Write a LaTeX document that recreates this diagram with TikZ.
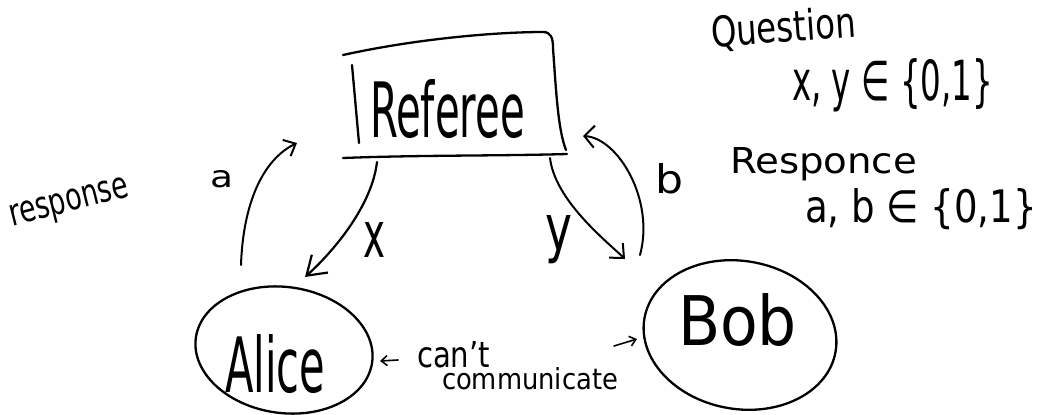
\documentclass[tikz,border=0pt]{standalone}
\usepackage{fontspec}
\setmainfont{DejaVu Sans}
\usepackage{graphicx}
\usetikzlibrary{arrows.meta,shapes.geometric}
\newcommand{\hwtext}[3]{\resizebox{#1}{#2}{#3}}
\begin{document}
\begin{tikzpicture}[x=1pt,y=-1pt,
  ink/.style={line width=2.3pt, line cap=round, line join=round},
  lbl/.style={inner sep=0pt, outer sep=0pt, anchor=base west, font=\fontsize{20}{24}\selectfont},
  bubble/.style={ellipse, draw, ink, inner sep=0pt},
  ]
\useasboundingbox (0,0) rectangle (1039,415);

% Referee box (hand drawn strokes)
\draw[ink] (343,55) .. controls (420,38) and (500,32) .. (543,32)
           .. controls (551,32) and (553,38) .. (553,48)
           .. controls (556,90) and (558,130) .. (566,150);
\draw[ink] (343,158) .. controls (420,155) and (500,156) .. (567,154);
\draw[ink] (352,65) -- (359,143);
\node[lbl] (referee) at (370,137) {\hwtext{155pt}{58pt}{Referee}};

% Alice and Bob
\node[bubble, minimum width=178pt, minimum height=126pt, rotate=-8] (alice) at (284,350) {};
\node[lbl] (alicelabel) at (225,392) {\hwtext{100pt}{58pt}{Alice}};
\node[bubble, minimum width=194pt, minimum height=148pt, rotate=-10] (bob) at (740,335) {};
\node[lbl] (boblabel) at (678,345) {\hwtext{119pt}{52pt}{Bob}};

% connector end points
\coordinate (aS) at (241,265); \coordinate (aE) at (297,143);
\coordinate (xS) at (377,162); \coordinate (xE) at (305,277);
\coordinate (yS) at (550,158); \coordinate (yE) at (625,259);
\coordinate (bS) at (640,255); \coordinate (bE) at (583,136);
\coordinate (lS) at (398,360); \coordinate (lE) at (380,361);
\coordinate (rS) at (614,346); \coordinate (rE) at (637,339);

\draw[ink, line width=2pt, -{Straight Barb[length=10pt,width=18pt]}]
  (aS) .. controls (243,205) and (262,160) .. (aE);
\draw[ink, line width=2.2pt, -{Straight Barb[length=18pt,width=24pt]}]
  (xS) .. controls (372,205) and (335,250) .. (xE);
\draw[ink, line width=2pt, -{Straight Barb[length=11pt,width=20pt]}]
  (yS) .. controls (555,200) and (605,240) .. (yE);
\draw[ink, line width=2pt, -{Straight Barb[length=10pt,width=22pt]}]
  (bS) .. controls (655,200) and (618,138) .. (bE);
\draw[ink, line width=1.6pt, -{Straight Barb[length=6pt,width=10pt]}] (lS) -- (lE);
\draw[ink, line width=1.6pt, -{Straight Barb[length=6pt,width=10pt]}] (rS) -- (rE);

% labels
\node[lbl, rotate=14] (responselabel) at (12,226) {\hwtext{122pt}{21pt}{response}};
\node[lbl] (alabel) at (210,187) {\hwtext{23pt}{17pt}{a}};
\node[lbl] (xlabel) at (363,257) {\hwtext{22pt}{35pt}{x}};
\node[lbl] (ylabel) at (545,250) {\hwtext{27pt}{35pt}{y}};
\node[lbl] (blabel) at (655,193) {\hwtext{28pt}{30pt}{b}};
\node[lbl] (cant) at (417,367) {\hwtext{73pt}{26pt}{can't}};
\node[lbl] (communicate) at (442,389) {\hwtext{176pt}{22pt}{communicate}};

% right-hand notes
\node[lbl, rotate=4] (question) at (712,47) {\hwtext{145pt}{32pt}{Question}};
\node[lbl] (questionset) at (792,100) {\hwtext{201pt}{42pt}{x, y ∈ \{0,1\}}};
\node[lbl] (responce) at (730,173) {\hwtext{187pt}{26pt}{Responce}};
\node[lbl] (answerset) at (805,222) {\hwtext{232pt}{34pt}{a, b ∈ \{0,1\}}};
\end{tikzpicture}
\end{document}
